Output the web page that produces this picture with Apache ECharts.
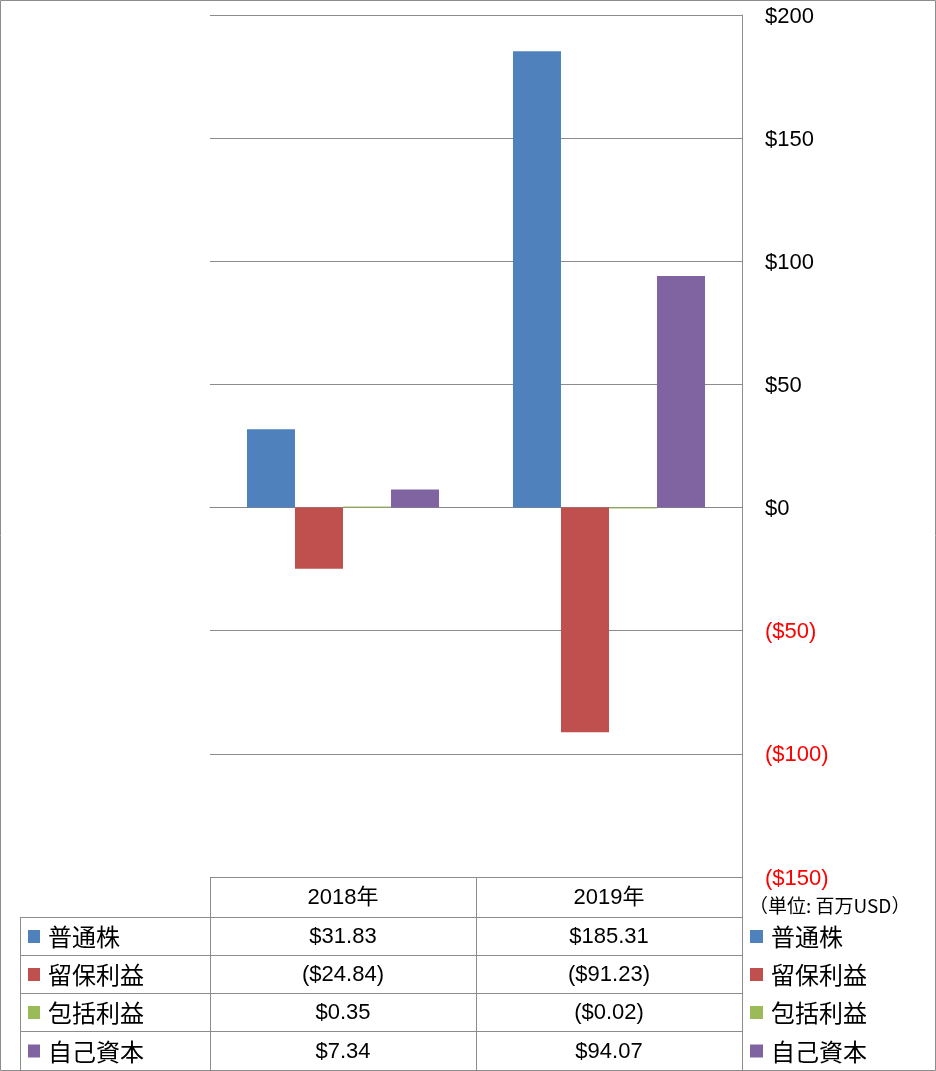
<!DOCTYPE html>
<html>
<head>
<meta charset="utf-8">
<script src="https://cdn.jsdelivr.net/npm/echarts@6/dist/echarts.min.js"></script>
<style>
html,body{margin:0;padding:0;background:#fff;}
#c{width:936px;height:1071px;}
</style>
</head>
<body>
<div id="c"></div>
<script>
const categories = ['2018年', '2019年'];
const seriesNames = ['普通株', '留保利益', '包括利益', '自己資本'];
const commonStock = [31.83, 185.31];
const retainedEarnings = [-24.84, -91.23];
const comprehensiveIncome = [0.35, -0.02];
const equity = [7.34, 94.07];
const yMin = -150, yMax = 200, yInterval = 50;
const unitLabel = '（単位: 百万USD）';
const colors = ['#4F81BD', '#C0504D', '#9BBB59', '#8064A2'];

const seriesData = [commonStock, retainedEarnings, comprehensiveIncome, equity];
const NUM_FONT = "'Liberation Sans', 'Noto Sans CJK JP', sans-serif";
const JP_FONT = "'Noto Sans CJK JP', sans-serif";
const LINE = '#8c8c8c';

function fmtMoney(v) {
  return v < 0 ? '($' + Math.abs(v).toFixed(2) + ')' : '$' + v.toFixed(2);
}

const chart = echarts.init(document.getElementById('c'), null, {renderer: 'canvas'});

const gridL = 210, gridR = 742, gridT = 15, gridB = 877;

chart.setOption({
  backgroundColor: '#fff',
  animation: false,
  color: colors,
  grid: {left: gridL, right: 936 - gridR, top: gridT, bottom: 1071 - gridB, containLabel: false},
  xAxis: {
    type: 'category', data: categories,
    axisLine: {show: true, onZero: true, lineStyle: {color: '#868686', width: 1}},
    axisTick: {show: false}, axisLabel: {show: false}, splitLine: {show: false}
  },
  yAxis: {
    type: 'value', position: 'right', min: yMin, max: yMax, interval: yInterval,
    axisLine: {show: true, lineStyle: {color: LINE}},
    axisTick: {show: true, inside: true, length: 3, lineStyle: {color: LINE}},
    splitLine: {show: true, lineStyle: {color: LINE, width: 1}},
    axisLabel: {
      margin: 23, fontSize: 22, fontFamily: NUM_FONT, color: '#000', padding: [3, 0, 0, 0],
      formatter: function (v) {
        return v < 0 ? '{neg|($' + Math.abs(v) + ')}' : '$' + v;
      },
      rich: {neg: {color: '#ff0000', fontSize: 22, fontFamily: NUM_FONT}}
    }
  },
  series: seriesNames.map(function (name, i) {
    return {
      name: name, type: 'bar', data: seriesData[i],
      barGap: '0%', barCategoryGap: '27.8%',
      barMinHeight: i === 2 ? 1 : 0,
      itemStyle: {color: colors[i]}
    };
  })
});

// Build data table below the plot, aligned with category columns
const colW = (gridR - gridL) / categories.length;
const rowTop = [877, 917, 955, 993, 1031, 1070];
const g = [];
function hline(x1, x2, y) {
  g.push({type: 'line', shape: {x1: x1, y1: y + 0.5, x2: x2, y2: y + 0.5}, style: {stroke: LINE, lineWidth: 1}, z: 10});
}
function vline(x, y1, y2) {
  g.push({type: 'line', shape: {x1: x + 0.5, y1: y1, x2: x + 0.5, y2: y2}, style: {stroke: LINE, lineWidth: 1}, z: 10});
}
// outer border
g.push({type: 'rect', shape: {x: 0.5, y: 0.5, width: 935, height: 1070}, style: {fill: null, stroke: LINE, lineWidth: 1}, z: 10});
hline(gridL, gridR, 877);
for (let r = 1; r <= 4; r++) hline(20, gridR, rowTop[r]);
vline(20, 917, 1071);
vline(gridL, 877, 1071);
for (let c = 1; c <= categories.length; c++) vline(gridL + c * colW, 877, 1071);

categories.forEach(function (cat, c) {
  const cx = chart.convertToPixel({xAxisIndex: 0}, cat);
  g.push({type: 'text', x: cx, y: (rowTop[0] + rowTop[1]) / 2 + 1, z: 11,
    style: {text: cat, font: '22px ' + NUM_FONT, fill: '#000', textAlign: 'center', textVerticalAlign: 'middle'}});
  seriesData.forEach(function (arr, s) {
    g.push({type: 'text', x: cx, y: (rowTop[s + 1] + rowTop[s + 2]) / 2 + 1, z: 11,
      style: {text: fmtMoney(arr[c]), font: '22px ' + NUM_FONT, fill: '#000', textAlign: 'center', textVerticalAlign: 'middle'}});
  });
});
seriesNames.forEach(function (name, s) {
  const cy = (rowTop[s + 1] + rowTop[s + 2]) / 2;
  // left table row label
  g.push({type: 'rect', shape: {x: 28, y: cy - 6, width: 12, height: 13}, style: {fill: colors[s]}, z: 11});
  g.push({type: 'text', x: 48, y: cy + 1, z: 11,
    style: {text: name, font: '24px ' + JP_FONT, fill: '#000', textAlign: 'left', textVerticalAlign: 'middle'}});
  // right legend
  g.push({type: 'rect', shape: {x: 750, y: cy - 6, width: 13, height: 13}, style: {fill: colors[s]}, z: 11});
  g.push({type: 'text', x: 771, y: cy + 1, z: 11,
    style: {text: name, font: '24px ' + JP_FONT, fill: '#000', textAlign: 'left', textVerticalAlign: 'middle'}});
});
g.push({type: 'text', x: 749, y: 906, z: 11,
  style: {text: unitLabel, font: '19px ' + JP_FONT, fill: '#000', textAlign: 'left', textVerticalAlign: 'middle'}});

chart.setOption({graphic: g});
</script>
</body>
</html>
